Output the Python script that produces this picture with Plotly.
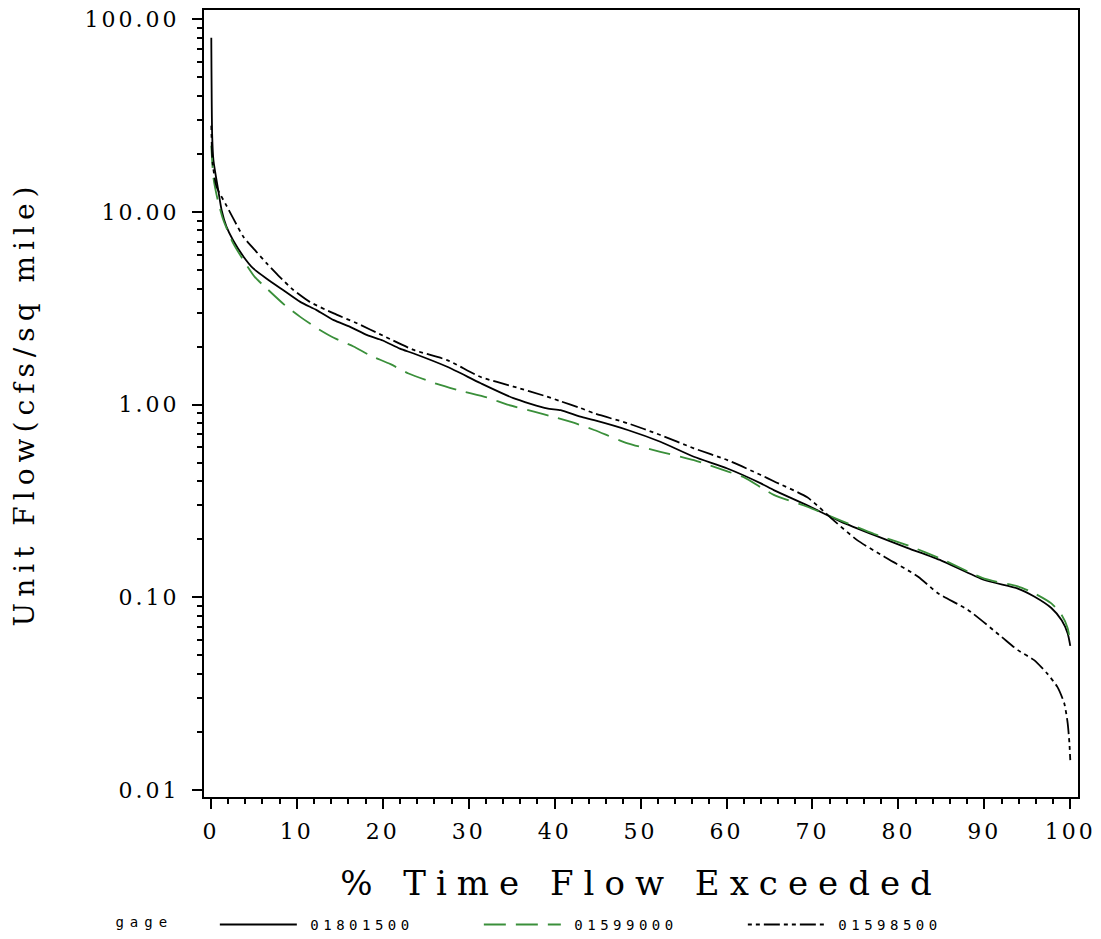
import plotly.graph_objects as go

# ---- data ----
x_01801500 = [0.05, 0.15, 0.3, 0.85, 1.25, 1.8, 2.6, 3.8, 4.9, 6.5, 8.4, 10.4, 12.3, 14.3, 16.2, 18.2,
              20.0, 22.0, 23.6, 27.5, 31.4, 35.2, 39.1, 40.7, 43.0, 44.6, 48.5, 52.3, 56.2, 60.1, 64.0,
              65.5, 69.4, 73.3, 77.2, 81.1, 85.0, 90.0, 93.9, 95.8, 97.8, 99.0, 99.7, 100.0]
y_01801500 = [80, 25, 18.5, 13.0, 10.2, 8.4, 7.1, 5.85, 5.1, 4.5, 3.93, 3.41, 3.09, 2.74, 2.53, 2.29,
              2.15, 1.95, 1.84, 1.57, 1.29, 1.08, 0.955, 0.936, 0.865, 0.83, 0.738, 0.641, 0.536, 0.466, 0.39,
              0.36, 0.30, 0.247, 0.21, 0.18, 0.155, 0.123, 0.111, 0.101, 0.088, 0.076, 0.065, 0.056]

x_01599000 = [0.05, 0.3, 0.8, 1.45, 2.6, 3.8, 5.1, 6.5, 8.6, 10.4, 12.1, 14.3, 16.6, 18.5, 20.9, 23.0,
              26.3, 29.0, 32.1, 34.5, 37.6, 40.0, 42.2, 44.6, 48.5, 52.3, 56.2, 60.1, 62.0, 65.5, 69.4,
              73.3, 77.2, 81.1, 85.0, 90.0, 93.9, 95.8, 97.8, 99.0, 99.7, 100.0]
y_01599000 = [22, 15, 11.5, 9.06, 6.86, 5.6, 4.6, 4.0, 3.28, 2.85, 2.53, 2.22, 2.0, 1.8, 1.62, 1.45,
              1.28, 1.18, 1.09, 1.0, 0.918, 0.86, 0.805, 0.738, 0.629, 0.569, 0.515, 0.45, 0.42, 0.34, 0.295,
              0.25, 0.213, 0.186, 0.158, 0.125, 0.114, 0.105, 0.093, 0.081, 0.069, 0.058]

x_01598500 = [0.05, 0.2, 0.66, 1.8, 2.6, 3.8, 5.3, 6.5, 8.0, 9.6, 11.5, 14.3, 17.0, 20.0, 23.6, 27.5,
              31.4, 35.2, 39.1, 40.7, 43.0, 44.6, 48.5, 52.3, 56.2, 60.1, 64.0, 65.5, 69.4, 72.5, 75.2,
              78.4, 82.3, 84.6, 88.1, 92.0, 93.9, 95.8, 97.3, 98.5, 99.3, 99.7, 99.9, 100.0]
y_01598500 = [28, 18, 13.5, 10.8, 9.25, 7.4, 6.2, 5.4, 4.6, 3.93, 3.41, 2.97, 2.64, 2.28, 1.92, 1.70,
              1.39, 1.24, 1.10, 1.04, 0.96, 0.90, 0.80, 0.695, 0.593, 0.515, 0.431, 0.40, 0.33, 0.25, 0.198,
              0.162, 0.128, 0.105, 0.086, 0.0624, 0.0532, 0.0472, 0.0403, 0.0343, 0.0282, 0.0222, 0.0175, 0.0143]

series_names = ["01801500", "01599000", "01598500"]
x_ticks = [0, 10, 20, 30, 40, 50, 60, 70, 80, 90, 100]
x_tick_labels = [str(v) for v in x_ticks]
y_ticks = [0.01, 0.1, 1, 10, 100]
y_tick_labels = ["0.01", "0.10", "1.00", "10.00", "100.00"]
y_minor = [m * 10 ** e for e in (-2, -1, 0, 1) for m in range(2, 10)]

FONT = "DejaVu Serif"
MONO = "DejaVu Sans Mono"


def spaced(text, px):
    return f'<span style="letter-spacing:{px}px">{text}</span>'


def legend_label(text):
    return "&nbsp;" + spaced(text, 4.5)


fig = go.Figure()
fig.add_trace(go.Scatter(x=x_01801500, y=y_01801500, mode="lines", name=legend_label(series_names[0]),
                         line=dict(color="black", width=1.8, shape="spline", smoothing=0.6)))
fig.add_trace(go.Scatter(x=x_01599000, y=y_01599000, mode="lines", name=legend_label(series_names[1]),
                         line=dict(color="#3a8f3a", width=1.8, dash="22px,10px", shape="spline", smoothing=0.6)))
fig.add_trace(go.Scatter(x=x_01598500, y=y_01598500, mode="lines", name=legend_label(series_names[2]),
                         line=dict(color="black", width=1.8, dash="4px,4px,4px,4px,16px,4px",
                                   shape="spline", smoothing=0.6)))

fig.update_layout(
    width=1101, height=939,
    margin=dict(l=204, r=23, t=10, b=142, autoexpand=False),
    paper_bgcolor="white", plot_bgcolor="white",
    font=dict(family=FONT, color="black"),
    showlegend=True,
    legend=dict(orientation="h", xref="container", yref="container",
                x=0.103, xanchor="left", y=0.015, yanchor="middle",
                title=dict(text=spaced("gage", 6) + "&nbsp;&nbsp;&nbsp;&nbsp;",
                           font=dict(family=MONO, size=14), side="left"),
                font=dict(family=MONO, size=14),
                entrywidth=172, entrywidthmode="pixels", itemwidth=77,
                bgcolor="rgba(0,0,0,0)"),
)

fig.update_xaxes(
    range=[-0.8, 100.9], tickvals=x_ticks, ticktext=[spaced(t, 3) for t in x_tick_labels],
    ticks="outside", ticklen=10, tickwidth=2, tickcolor="black",
    tickfont=dict(family=FONT, size=22), ticklabelstandoff=4,
    minor=dict(ticks="outside", ticklen=5, tickwidth=2, tickcolor="black", dtick=2, showgrid=False),
    showline=True, linewidth=2, linecolor="black", mirror=True, showgrid=False, zeroline=False,
    automargin=False,
    title=dict(text=spaced("% Time Flow Exceeded", 10), font=dict(family=FONT, size=34), standoff=28),
)
fig.update_yaxes(
    type="log", range=[-2.036, 2.047], tickvals=y_ticks, ticktext=[spaced(t, 3) for t in y_tick_labels],
    ticks="outside", ticklen=10, tickwidth=2, tickcolor="black",
    tickfont=dict(family=FONT, size=22), ticklabelstandoff=8,
    minor=dict(ticks="outside", ticklen=5, tickwidth=2, tickcolor="black", tickvals=y_minor, showgrid=False),
    showline=True, linewidth=2, linecolor="black", mirror=True, showgrid=False, zeroline=False,
    automargin=False,
    title=dict(text=spaced("Unit Flow(cfs/sq mile)", 6), font=dict(family=FONT, size=28), standoff=42),
)

fig.write_html("out.html")
